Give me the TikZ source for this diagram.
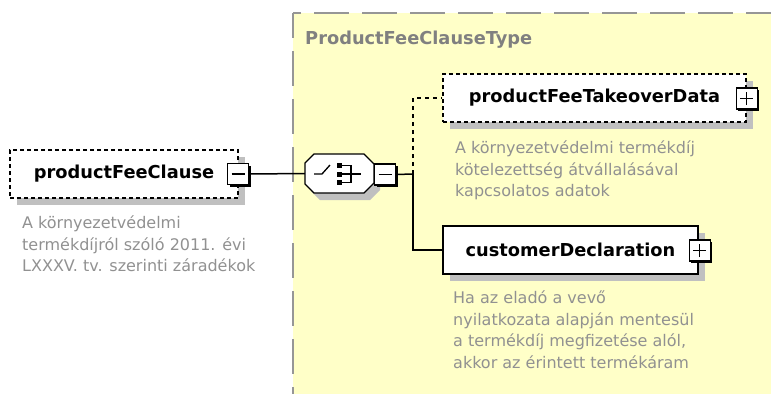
\documentclass[tikz,border=0pt]{standalone}
\usepackage{fontspec}
\setmainfont{DejaVu Sans}
\usetikzlibrary{shadows}
\definecolor{bgyellow}{RGB}{255,255,200}
\definecolor{framegray}{RGB}{150,150,150}
\definecolor{shadowgray}{RGB}{192,192,192}
\definecolor{descgray}{RGB}{145,145,145}
\definecolor{titlegray}{RGB}{128,128,128}
\begin{document}
\begin{tikzpicture}[x=1pt,y=-1pt,
  elem/.style={draw=black, line width=1.2pt, fill=white, inner sep=0,
    font=\fontsize{17.8}{20}\selectfont\bfseries,
    drop shadow={shadow xshift=7pt, shadow yshift=-7pt, fill=shadowgray, opacity=1}},
  optelem/.style={elem, dash pattern=on 4pt off 3pt},
  desc/.style={anchor=north west, inner sep=0, align=left, text=descgray,
    font=\fontsize{16}{21.5}\selectfont},
  btn/.style={draw=black, line width=1.2pt, fill=white, minimum size=21pt, inner sep=0,
    drop shadow={shadow xshift=2pt, shadow yshift=-2pt, fill=black, opacity=1}},
  minusbtn/.style={btn, path picture={\draw[line width=1.2pt]
    ([xshift=-6.5pt]path picture bounding box.center) -- ([xshift=6.5pt]path picture bounding box.center);}},
  plusbtn/.style={btn, path picture={\draw[line width=1.2pt]
    ([xshift=-6.5pt]path picture bounding box.center) -- ([xshift=6.5pt]path picture bounding box.center)
    ([yshift=-6.5pt]path picture bounding box.center) -- ([yshift=6.5pt]path picture bounding box.center);}},
  conn/.style={line width=1.5pt, black},
  optconn/.style={conn, dash pattern=on 4pt off 4pt}
]
\useasboundingbox (0,0) rectangle (771,394);
% type frame
\fill[bgyellow] (293,13) rectangle (771,394);
\draw[framegray, line width=2pt, dash pattern=on 35pt off 13pt, dash phase=27pt] (293,13) -- (771,13);
\draw[framegray, line width=2pt, dash pattern=on 35pt off 13pt, dash phase=10pt] (293,13) -- (293,394);
\node[anchor=base west, inner sep=0, text=titlegray, font=\fontsize{17.8}{20}\selectfont\bfseries] (title) at (305,44) {ProductFeeClauseType};

% root element
\node[optelem, minimum width=228pt, minimum height=48pt] (pfc) at (124,174) {productFeeClause};
\node[minusbtn] (pfcbtn) at ([xshift=-0.5pt]pfc.east) {};
\node[desc] (pfcdesc) at (22,213.5) {\strut A környezetvédelmi\\termékdíjról szóló 2011. évi\\LXXXV. tv. szerinti záradékok};

% sequence compositor
\fill[shadowgray, shift={(6,7)}] (314,154) -- (364,154) -- (374,164) -- (374,183) -- (364,193) -- (314,193) -- (305,184) -- (305,163) -- cycle;
\draw[line width=1.2pt, fill=white] (314,154) -- (364,154) -- (374,164) -- (374,183) -- (364,193) -- (314,193) -- (305,184) -- (305,163) -- cycle;
\node[inner sep=0, minimum width=69pt, minimum height=39pt] (seq) at (339.5,173.5) {};
\draw[line width=1.3pt] (314,174) -- (322,174) -- (330,165);
\fill (337,163) rectangle (342,168);
\fill (337,171.5) rectangle (342,176.5);
\fill (337,180) rectangle (342,185);
\draw[line width=1.3pt] (342,165.5) -- (351,165.5) -- (351,182.5) -- (342,182.5);
\draw[line width=1.3pt] (342,174) -- (361,174);
\node[minusbtn] (seqbtn) at (385,174.5) {};

% trunk
\coordinate (trunk) at (413,174);
\draw[conn] (pfcbtn.east) -- (seq.west);
\draw[conn] (seqbtn.east) -- (trunk);

% children
\node[optelem, minimum width=303pt, minimum height=48pt] (pftd) at (594.5,98) {productFeeTakeoverData};
\node[plusbtn] (pftdbtn) at ([yshift=-0.5pt]pftd.east) {};
\node[desc] (pftddesc) at (455,138.5) {\strut A környezetvédelmi termékdíj\\kötelezettség átvállalásával\\kapcsolatos adatok};

\node[elem, minimum width=255pt, minimum height=48pt] (cd) at (570.5,250) {customerDeclaration};
\node[plusbtn] (cdbtn) at ([xshift=1pt,yshift=-0.5pt]cd.east) {};
\node[desc] (cddesc) at (453,288.5) {\strut Ha az eladó a vevő\\nyilatkozata alapján mentesül\\a termékdíj megfizetése alól,\\akkor az érintett termékáram};

\draw[optconn] (trunk) |- (pftd.west);
\draw[conn] (trunk) |- (cd.west);
\end{tikzpicture}
\end{document}
